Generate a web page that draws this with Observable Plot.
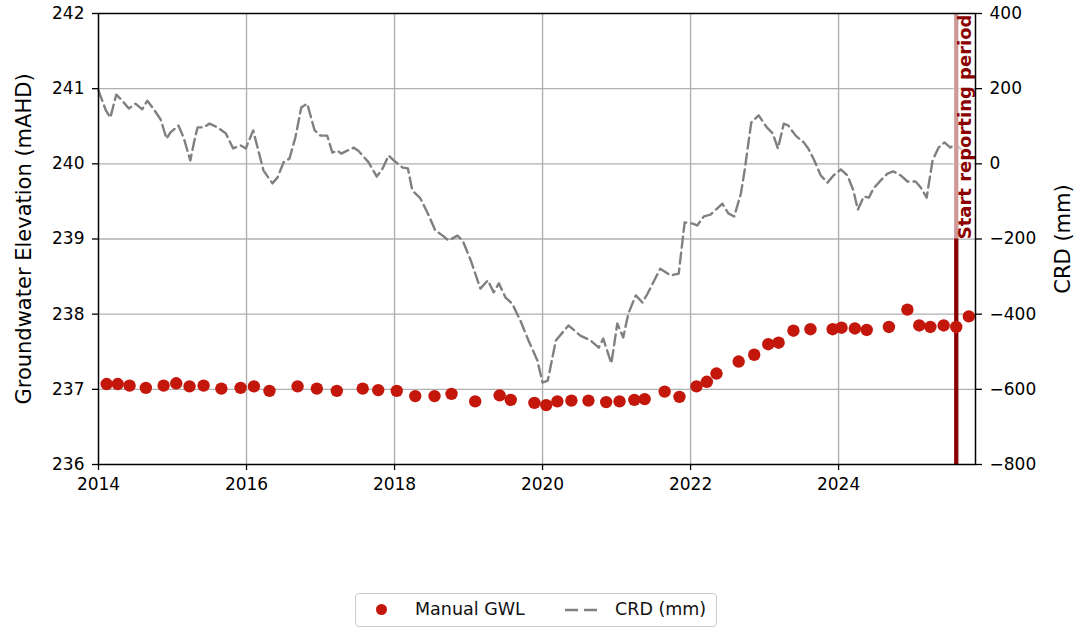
<!DOCTYPE html>
<html>
<head>
<meta charset="utf-8">
<script src="https://cdn.jsdelivr.net/npm/d3@7"></script>
<script src="https://cdn.jsdelivr.net/npm/@observablehq/plot@0.6"></script>
<style>
  html, body { margin: 0; padding: 0; background: white; }
  #wrap { position: relative; width: 1079px; height: 629px; font-family: "DejaVu Sans", sans-serif; }
  #legend { position: absolute; left: 355px; top: 593px; width: 362px; height: 34px;
    border: 1.5px solid #cccccc; border-radius: 4px; box-sizing: border-box; font-size: 17.5px; color: #111; }
  #legend .dot { position: absolute; left: 20px; top: 10px; width: 11px; height: 11px; border-radius: 50%; background: #c4170c; }
  #legend .t1 { position: absolute; left: 59px; top: 5px; }
  #legend svg { position: absolute; left: 209px; top: 14px; }
  #legend .t2 { position: absolute; left: 259px; top: 5px; }
</style>
</head>
<body>
<div id="wrap">
  <div id="chart"></div>
  <div id="legend"><span class="dot"></span><span class="t1">Manual GWL</span><svg width="36" height="4"><line x1="0" y1="2" x2="36" y2="2" stroke="#808080" stroke-width="2.5" stroke-dasharray="13,6"/></svg><span class="t2">CRD (mm)</span></div>
</div>
<script>
// ---- Data ----
const gwlYear = [2014.11, 2014.26, 2014.42, 2014.64, 2014.88, 2015.05, 2015.23, 2015.42, 2015.66, 2015.92,
  2016.10, 2016.31, 2016.69, 2016.95, 2017.22, 2017.57, 2017.78, 2018.03, 2018.28, 2018.54, 2018.77,
  2019.09, 2019.42, 2019.57, 2019.89, 2020.05, 2020.20, 2020.39, 2020.62, 2020.86, 2021.04, 2021.24,
  2021.38, 2021.65, 2021.85, 2022.08, 2022.22, 2022.35, 2022.65, 2022.86, 2023.05, 2023.19, 2023.39,
  2023.62, 2023.92, 2024.04, 2024.22, 2024.38, 2024.68, 2024.93, 2025.09, 2025.24, 2025.42, 2025.59, 2025.76];
const gwlValue = [237.07, 237.07, 237.05, 237.02, 237.05, 237.08, 237.04, 237.05, 237.01, 237.02,
  237.04, 236.98, 237.04, 237.01, 236.98, 237.01, 236.99, 236.98, 236.91, 236.91, 236.94,
  236.84, 236.92, 236.86, 236.82, 236.79, 236.84, 236.85, 236.85, 236.83, 236.84, 236.86,
  236.87, 236.97, 236.90, 237.04, 237.10, 237.21, 237.37, 237.46, 237.60, 237.62, 237.78,
  237.80, 237.80, 237.82, 237.81, 237.79, 237.83, 238.06, 237.85, 237.83, 237.85, 237.83, 237.97];

const crdYear = [2014.00, 2014.10, 2014.16, 2014.24, 2014.32, 2014.41, 2014.50, 2014.59, 2014.66, 2014.74,
  2014.84, 2014.92, 2014.97, 2015.08, 2015.15, 2015.24, 2015.31, 2015.34, 2015.42, 2015.50, 2015.61,
  2015.72, 2015.82, 2015.92, 2015.99, 2016.09, 2016.16, 2016.23, 2016.35, 2016.42, 2016.50, 2016.58,
  2016.66, 2016.74, 2016.82, 2016.92, 2017.00, 2017.09, 2017.16, 2017.23, 2017.28, 2017.36, 2017.45,
  2017.51, 2017.65, 2017.76, 2017.84, 2017.92, 2017.99, 2018.11, 2018.18, 2018.24, 2018.35, 2018.45,
  2018.55, 2018.65, 2018.73, 2018.85, 2018.92, 2019.03, 2019.16, 2019.26, 2019.34, 2019.41, 2019.50,
  2019.59, 2019.70, 2019.81, 2019.93, 2020.00, 2020.07, 2020.18, 2020.35, 2020.51, 2020.65, 2020.76,
  2020.82, 2020.93, 2021.01, 2021.09, 2021.16, 2021.26, 2021.35, 2021.42, 2021.59, 2021.73, 2021.84,
  2021.92, 2022.03, 2022.09, 2022.18, 2022.27, 2022.43, 2022.51, 2022.59, 2022.68, 2022.73, 2022.82,
  2022.92, 2023.03, 2023.11, 2023.18, 2023.26, 2023.32, 2023.42, 2023.53, 2023.59, 2023.66, 2023.76,
  2023.85, 2023.93, 2024.03, 2024.12, 2024.20, 2024.26, 2024.34, 2024.41, 2024.47, 2024.57, 2024.66,
  2024.74, 2024.84, 2024.93, 2025.04, 2025.11, 2025.19, 2025.27, 2025.35, 2025.43, 2025.51, 2025.57, 2025.65];
const crdValue = [195, 142, 123, 184, 168, 147, 160, 145, 168, 147,
  118, 67, 83, 102, 70, 9, 75, 97, 97, 107, 97,
  81, 41, 49, 41, 89, 35, -18, -52, -36, 4, 14,
  70, 150, 160, 89, 75, 75, 30, 35, 27, 35, 43,
  35, 4, -34, -12, 22, 9, -10, -12, -71, -92, -132,
  -177, -191, -204, -191, -204, -257, -332, -310, -342, -318, -356,
  -372, -417, -470, -523, -582, -577, -470, -430, -457, -470, -489,
  -465, -531, -425, -462, -398, -350, -369, -345, -279, -297, -292,
  -156, -159, -164, -140, -135, -106, -132, -140, -79, -18, 110,
  129, 97, 81, 41, 107, 102, 75, 57, 41, 14, -31,
  -50, -31, -15, -31, -71, -122, -87, -90, -66, -44, -26,
  -20, -31, -47, -47, -63, -90, 9, 43, 57, 43, 54, 40];

const xTicks = [2014, 2016, 2018, 2020, 2022, 2024];
const gwlTicks = [236, 237, 238, 239, 240, 241, 242];
const crdTicks = [-800, -600, -400, -200, 0, 200, 400];
const reportStart = [2025.59];
const reportLabel = "Start reporting period";

// ---- Build ----
const gwl = gwlYear.map((x, i) => ({x, y: gwlValue[i]}));
const crd = crdYear.map((x, i) => ({x, v: crdValue[i]}));
// CRD axis (right) linked to the elevation axis (left): -800..400 <-> 236..242
const crdToY = c => 236 + (c + 800) / 200;
const yToCrd = y => Math.round((y - 236) * 200 - 800);
const minus = n => n < 0 ? "\u2212" + Math.abs(n) : String(n);

const chart = Plot.plot({
  width: 1079,
  height: 590,
  marginTop: 13,
  marginLeft: 98,
  marginRight: 104,
  marginBottom: 126,
  x: {type: "linear", domain: [2014, 2025.85]},
  y: {domain: [236, 242]},
  style: {fontFamily: "DejaVu Sans", fontSize: "17px", color: "black", background: "white"},
  marks: [
    Plot.gridX(xTicks.slice(1), {stroke: "#b0b0b0", strokeOpacity: 1, strokeWidth: 1.4}),
    Plot.gridY(gwlTicks.slice(1, -1), {stroke: "#b0b0b0", strokeOpacity: 1, strokeWidth: 1.4}),
    Plot.line(crd, {x: "x", y: d => crdToY(d.v), stroke: "#808080", strokeWidth: 2.4, strokeDasharray: "11,5"}),
    Plot.ruleX(reportStart, {x: d => d, stroke: "#8b0000", strokeWidth: 4.3}),
    Plot.rect(reportStart, {x1: d => d - 0.035, x2: d => d + 0.25, y1: 239.0, y2: 242, fill: "white", fillOpacity: 0.6}),
    Plot.text(reportStart, {x: d => d, frameAnchor: "top", text: () => reportLabel, rotate: -90,
      textAnchor: "end", lineAnchor: "middle", dx: 9, dy: 1, fontSize: 18, fontWeight: "bold", fill: "#8b0000"}),
    Plot.dot(gwl, {x: "x", y: "y", r: 6.2, fill: "#c4170c", stroke: "none"}),
    Plot.axisX(xTicks, {tickSize: 6, tickPadding: 7, tickFormat: d => String(d), label: null, strokeWidth: 1.3}),
    Plot.axisY(gwlTicks, {anchor: "left", tickSize: 6, tickPadding: 8, label: null, strokeWidth: 1.3,
      tickFormat: d => String(d)}),
    Plot.axisY(crdTicks.map(crdToY), {anchor: "right", tickSize: 6, tickPadding: 8, label: null, strokeWidth: 1.3,
      tickFormat: v => minus(yToCrd(v))}),
    Plot.text(["Groundwater Elevation (mAHD)"], {frameAnchor: "left", rotate: -90, dx: -74,
      textAnchor: "middle", lineAnchor: "middle", fontSize: 21}),
    Plot.text(["CRD (mm)"], {frameAnchor: "right", rotate: -90, dx: 88,
      textAnchor: "middle", lineAnchor: "middle", fontSize: 21}),
    Plot.frame({stroke: "black", strokeWidth: 1.5})
  ]
});
document.getElementById("chart").appendChild(chart);
</script>
</body>
</html>
